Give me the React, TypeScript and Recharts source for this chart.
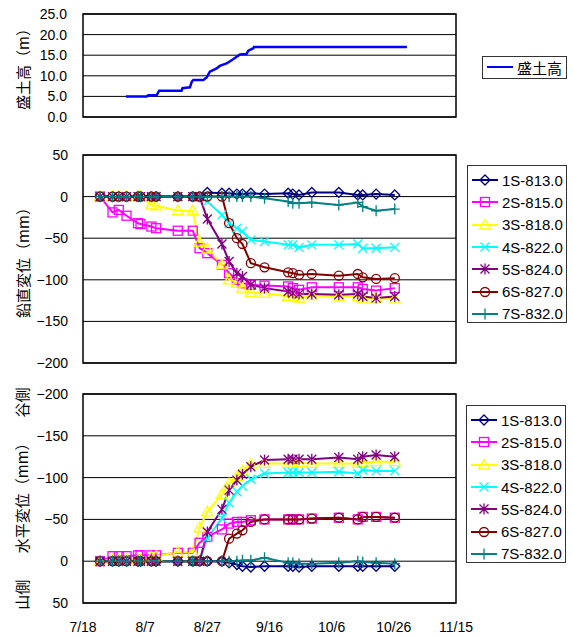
import React from "react";
import {
  LineChart,
  Line,
  XAxis,
  YAxis,
  CartesianGrid,
  ReferenceArea,
  Legend,
} from "recharts";

const FONT = "'Liberation Sans', 'Noto Sans CJK JP', sans-serif";
const JP_FONT = "'Noto Sans CJK JP', sans-serif";

// x axis: days counted from 7/18
const X_TICKS = [0, 20, 40, 60, 80, 100, 120];
const X_TICK_LABELS = ["7/18", "8/7", "8/27", "9/16", "10/6", "10/26", "11/15"];

// embankment height (m)
const FILL_TICKS = [0, 5, 10, 15, 20, 25];
const FILL_DAYS = [13.8, 20.5, 21, 23.7, 24.5, 31.7, 32, 34.4, 35, 35.5, 38.7, 39.8, 40.8, 43, 44, 46.2, 48.3, 50.5, 52.6, 53.2, 54.8, 55, 104.2];
const FILL_HEIGHT = [5.0, 5.0, 5.3, 5.3, 6.4, 6.4, 7.0, 7.2, 8.6, 9.0, 9.0, 9.6, 11.0, 11.8, 12.4, 13.0, 14.0, 15.2, 15.3, 16.1, 16.7, 17.0, 17.0];

// measurement dates (days from 7/18)
const DAYS = [5.5, 9.5, 11.5, 14, 17.7, 18.5, 22, 23.5, 30.5, 35.3, 37.5, 40, 44.7, 47, 49.5, 51.3, 54, 58.4, 66, 67.5, 69.5, 73.6, 82.3, 88.4, 90, 94.3, 100.3];
const DISP_TICKS = [-200, -150, -100, -50, 0, 50];

// vertical displacement (mm)
const V_1S = [0, 0, 0, 0, 0, 0, 0, 0, 0, 0, 0, 5, 4, 4, 3, 3, 4, 3, 4, 3, 2, 5, 5, 2, 2, 3, 2];
const V_2S = [0, -19, -16, -23, -32, -33, -36, -38, -41, -41, -62, -68, -82, -92, -100, -104, -106, -107, -108, -110, -112, -109, -109, -109, -111, -113, -110];
const V_3S = [0, 0, 0, 0, 0, 0, -10, -11, -17, -17, -55, -63, -82, -100, -104, -110, -115, -116, -120, -120, -122, -119, -120, -120, -123, -122, -123];
const V_4S = [0, 0, 0, 0, 0, 0, 0, 0, 0, 0, 0, -6, -22, -32, -38, -42, -52, -54, -58, -58, -61, -58, -58, -57, -62, -62, -61];
const V_5S = [0, 0, 0, 0, 0, 0, 0, 0, 0, 0, 0, -27, -57, -78, -92, -96, -106, -110, -114, -116, -117, -117, -118, -117, -120, -122, -120];
const V_6S = [0, 0, 0, 0, 0, 0, 0, 0, 0, 0, 0, 0, 0, -32, -50, -57, -80, -85, -91, -92, -94, -93, -95, -93, -97, -99, -98];
const V_7S = [0, 0, 0, 0, 0, 0, 0, 0, 0, 0, 0, 0, 0, 0, 0, 0, 0, -2, -6, -8, -8, -7, -10, -7, -12, -17, -15];

// horizontal displacement (mm), negative = valley side
const H_1S = [0, 0, 0, 0, 0, 0, 0, 0, 0, 0, 0, 0, 0, 2, 4, 6, 7, 6, 6, 6, 7, 6, 6, 6, 6, 6, 6];
const H_2S = [0, -6, -6, -6, -7, -7, -7, -7, -10, -10, -22, -29, -38, -45, -47, -47, -49, -50, -50, -50, -50, -51, -52, -50, -53, -53, -52];
const H_3S = [0, -2, -2, -2, -2, -2, -5, -6, -11, -11, -40, -59, -80, -93, -101, -108, -116, -117, -117, -117, -118, -117, -117, -117, -118, -119, -119];
const H_4S = [0, 0, 0, 0, 0, 0, 0, 0, 0, 0, 0, -28, -51, -70, -83, -90, -98, -105, -106, -106, -106, -106, -107, -105, -109, -108, -108];
const H_5S = [0, 0, 0, 0, 0, 0, 0, 0, 0, 0, 0, -35, -62, -85, -97, -104, -113, -121, -122, -122, -122, -122, -124, -122, -125, -127, -125];
const H_6S = [0, 0, 0, 0, 0, 0, 0, 0, 0, 0, 0, 0, 0, -27, -33, -37, -47, -50, -50, -50, -50, -51, -52, -50, -53, -53, -52];
const H_7S = [0, 0, 0, 0, 0, 0, 0, 0, 0, 0, 0, 0, 0, 0, 0, -1, -1, -4, 2, 2, 3, 3, 2, 0, 1, 2, 3];

type Shape = "diamond" | "square" | "triangle" | "cross" | "star" | "circle" | "plus";

const SERIES: { name: string; color: string; shape: Shape; v: number[]; h: number[] }[] = [
  { name: "1S-813.0", color: "#000080", shape: "diamond", v: V_1S, h: H_1S },
  { name: "2S-815.0", color: "#ff00ff", shape: "square", v: V_2S, h: H_2S },
  { name: "3S-818.0", color: "#ffff00", shape: "triangle", v: V_3S, h: H_3S },
  { name: "4S-822.0", color: "#00ffff", shape: "cross", v: V_4S, h: H_4S },
  { name: "5S-824.0", color: "#800080", shape: "star", v: V_5S, h: H_5S },
  { name: "6S-827.0", color: "#800000", shape: "circle", v: V_6S, h: H_6S },
  { name: "7S-832.0", color: "#008080", shape: "plus", v: V_7S, h: H_7S },
];

const fillData = FILL_DAYS.map((d, i) => ({ day: d, h: FILL_HEIGHT[i] }));
const toRows = (vals: number[]) => DAYS.map((d, i) => ({ day: d, v: vals[i] }));

function Marker({ shape, x, y, color }: { shape: Shape; x: number; y: number; color: string }) {
  const st = { fill: "none", stroke: color, strokeWidth: 1.3 };
  switch (shape) {
    case "diamond":
      return <path d={`M${x} ${y - 5}L${x + 5} ${y}L${x} ${y + 5}L${x - 5} ${y}Z`} {...st} />;
    case "square":
      return <rect x={x - 4.5} y={y - 4.5} width={9} height={9} {...st} />;
    case "triangle":
      return <path d={`M${x} ${y - 5.5}L${x + 5.5} ${y + 4}L${x - 5.5} ${y + 4}Z`} {...st} />;
    case "cross":
      return <path d={`M${x - 4.5} ${y - 4.5}L${x + 4.5} ${y + 4.5}M${x + 4.5} ${y - 4.5}L${x - 4.5} ${y + 4.5}`} {...st} />;
    case "star":
      return (
        <path
          d={`M${x - 4.5} ${y - 4.5}L${x + 4.5} ${y + 4.5}M${x + 4.5} ${y - 4.5}L${x - 4.5} ${y + 4.5}M${x} ${y - 5.5}L${x} ${y + 5.5}`}
          {...st}
        />
      );
    case "circle":
      return <circle cx={x} cy={y} r={4.5} {...st} />;
    default:
      return <path d={`M${x - 5} ${y}L${x + 5} ${y}M${x} ${y - 5.5}L${x} ${y + 5.5}`} {...st} />;
  }
}

const dotFor = (shape: Shape, color: string) => (p: any) => {
  if (p.cx == null || p.cy == null || p.value == null) return <g key={`d${p.index}`} />;
  return (
    <g key={`d${p.index}`}>
      <Marker shape={shape} x={p.cx} y={p.cy} color={color} />
    </g>
  );
};

function LegendBox({ items, lineOnly }: { items: typeof SERIES; lineOnly?: boolean }) {
  return (
    <div
      style={{
        border: "1px solid #333",
        background: "#fff",
        padding: lineOnly ? "0 4px" : "3px 4px",
        fontFamily: FONT,
        fontSize: 15,
        color: "#000",
        boxSizing: "border-box",
        height: "100%",
      }}
    >
      {items.map((s) => (
        <div key={s.name} style={{ display: "flex", alignItems: "center", height: lineOnly ? 20 : 22.3 }}>
          <svg width={26} height={14} style={{ flex: "none" }}>
            <line x1={0} y1={7} x2={26} y2={7} stroke={s.color} strokeWidth={2} />
            {!lineOnly && <Marker shape={s.shape} x={13} y={7} color={s.color} />}
          </svg>
          <span style={{ marginLeft: 4, whiteSpace: "nowrap", fontFamily: lineOnly ? JP_FONT : FONT }}>{s.name}</span>
        </div>
      ))}
    </div>
  );
}

const yTitle = (parts: { text: string; at: number }[]) => (props: any) => {
  const vb = props.viewBox || {};
  const top = vb.y ?? 0;
  const h = vb.height ?? 0;
  return (
    <g>
      {parts.map((p) => {
        const cx = 22;
        const cy = top + h * p.at;
        return (
          <text
            key={p.text}
            x={cx}
            y={cy}
            transform={`rotate(-90 ${cx} ${cy})`}
            textAnchor="middle"
            dominantBaseline="central"
            fontSize={15}
            fontFamily={JP_FONT}
            fill="#000"
          >
            {p.text}
          </text>
        );
      })}
    </g>
  );
};

const tickStyle = { fill: "#000", fontSize: 14, fontFamily: FONT };
const minusFmt = (v: number) => (v < 0 ? `\u2212${Math.abs(v)}` : `${v}`);

export default function App() {
  return (
    <div style={{ position: "absolute", left: 0, top: 0, width: 573, height: 637, background: "#fff" }}>
      {/* embankment height */}
      <div style={{ position: "absolute", left: 0, top: 0 }}>
        <LineChart width={573} height={130} data={fillData} margin={{ top: 14, right: 117, bottom: 13, left: 0 }}>
          <CartesianGrid vertical={false} stroke="#000" />
          <XAxis
            type="number"
            dataKey="day"
            domain={[0, 120]}
            ticks={X_TICKS}
            interval={0}
            height={0}
            mirror
            tickSize={5}
            tickFormatter={() => ""}
            axisLine={false}
            tickLine={{ stroke: "#000" }}
          />
          <YAxis
            domain={[0, 25]}
            ticks={FILL_TICKS}
            interval={0}
            width={83}
            tickFormatter={(v: number) => v.toFixed(1)}
            tickLine={false}
            axisLine={false}
            tickSize={0}
            tickMargin={16}
            tick={tickStyle}
            label={{ content: yTitle([{ text: "盛土高（m）", at: 0.5 }]) }}
          />
          <ReferenceArea x1={0} x2={120} y1={0} y2={25} fill="none" stroke="#000" strokeWidth={1.5} fillOpacity={0} />
          <Line dataKey="h" stroke="#0000ff" strokeWidth={2.5} dot={false} isAnimationActive={false} />
          <Legend
            layout="vertical"
            align="center"
            verticalAlign="middle"
            wrapperStyle={{ left: 482, top: 56, width: 85, height: 23 }}
            content={() => (
              <LegendBox lineOnly items={[{ name: "盛土高", color: "#0000ff", shape: "plus", v: [], h: [] }]} />
            )}
          />
        </LineChart>
      </div>

      {/* vertical displacement */}
      <div style={{ position: "absolute", left: 0, top: 130 }}>
        <LineChart width={573} height={250} margin={{ top: 25, right: 117, bottom: 17, left: 0 }}>
          <CartesianGrid vertical={false} stroke="#000" />
          <XAxis type="number" dataKey="day" domain={[0, 120]} ticks={X_TICKS} hide />
          <YAxis
            domain={[-200, 50]}
            ticks={DISP_TICKS}
            interval={0}
            width={83}
            tickFormatter={minusFmt}
            tickLine={false}
            axisLine={false}
            tickSize={0}
            tickMargin={15}
            tick={tickStyle}
            label={{ content: yTitle([{ text: "鉛直変位（mm）", at: 0.5 }]) }}
          />
          <ReferenceArea x1={0} x2={120} y1={-200} y2={50} fill="none" stroke="#000" strokeWidth={1.5} fillOpacity={0} />
          {SERIES.map((s) => (
            <Line
              key={s.name}
              data={toRows(s.v)}
              dataKey="v"
              name={s.name}
              stroke={s.color}
              strokeWidth={2}
              dot={dotFor(s.shape, s.color)}
              isAnimationActive={false}
            />
          ))}
          <Legend
            layout="vertical"
            align="center"
            verticalAlign="middle"
            wrapperStyle={{ left: 467, top: 35, width: 100, height: 158 }}
            content={() => <LegendBox items={SERIES} />}
          />
        </LineChart>
      </div>

      {/* horizontal displacement */}
      <div style={{ position: "absolute", left: 0, top: 380 }}>
        <LineChart width={573} height={257} margin={{ top: 14, right: 117, bottom: 4, left: 0 }}>
          <CartesianGrid vertical={false} stroke="#000" />
          <XAxis
            type="number"
            dataKey="day"
            domain={[0, 120]}
            ticks={X_TICKS}
            interval={0}
            height={30}
            tickFormatter={(v: number) => X_TICK_LABELS[X_TICKS.indexOf(v)] ?? ""}
            tickLine={false}
            axisLine={false}
            tickSize={0}
            tickMargin={19}
            tick={tickStyle}
          />
          <YAxis
            domain={[-200, 50]}
            reversed
            ticks={DISP_TICKS}
            interval={0}
            width={83}
            tickFormatter={minusFmt}
            tickLine={false}
            axisLine={false}
            tickSize={0}
            tickMargin={15}
            tick={tickStyle}
            label={{
              content: yTitle([
                { text: "谷側", at: 0.04 },
                { text: "水平変位（mm）", at: 0.48 },
                { text: "山側", at: 0.96 },
              ]),
            }}
          />
          <ReferenceArea x1={0} x2={120} y1={-200} y2={50} fill="none" stroke="#000" strokeWidth={1.5} fillOpacity={0} />
          {SERIES.map((s) => (
            <Line
              key={s.name}
              data={toRows(s.h)}
              dataKey="v"
              name={s.name}
              stroke={s.color}
              strokeWidth={2}
              dot={dotFor(s.shape, s.color)}
              isAnimationActive={false}
            />
          ))}
          <Legend
            layout="vertical"
            align="center"
            verticalAlign="middle"
            wrapperStyle={{ left: 466, top: 25, width: 100, height: 158 }}
            content={() => <LegendBox items={SERIES} />}
          />
        </LineChart>
      </div>
    </div>
  );
}
